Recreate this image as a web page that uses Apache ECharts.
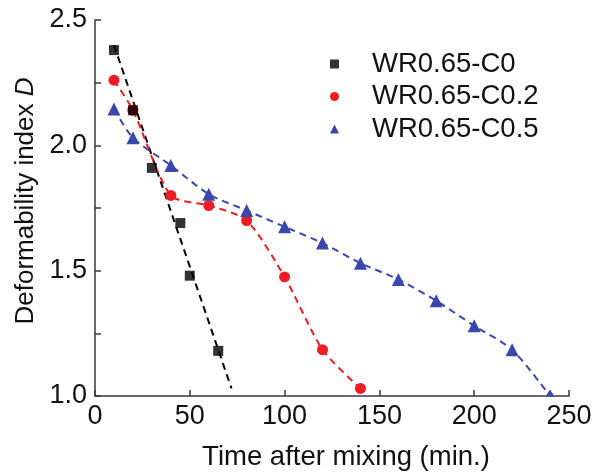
<!DOCTYPE html>
<html>
<head>
<meta charset="utf-8">
<script src="https://cdn.jsdelivr.net/npm/echarts@6/dist/echarts.min.js"></script>
<style>html,body{margin:0;padding:0;background:#fff}#c{width:602px;height:476px}</style>
</head>
<body>
<div id="c"></div>
<script>
// Data
const seriesNames = ['WR0.65-C0', 'WR0.65-C0.2', 'WR0.65-C0.5'];
const c0Time = [10, 20, 30, 45, 50, 65];
const c0D = [2.38, 2.14, 1.91, 1.69, 1.48, 1.18];
const c0FitTime = [10, 72];
const c0FitD = [2.40, 1.03];
const c02Time = [10, 20, 40, 60, 80, 100, 120, 140];
const c02D = [2.26, 2.14, 1.80, 1.76, 1.70, 1.475, 1.185, 1.03];
const c05Time = [10, 20, 40, 60, 80, 100, 120, 140, 160, 180, 200, 220, 240];
const c05D = [2.145, 2.03, 1.92, 1.805, 1.74, 1.675, 1.61, 1.53, 1.465, 1.38, 1.28, 1.185, 1.0];
const xTicks = [0, 50, 100, 150, 200, 250];
const yTicks = [1.0, 1.5, 2.0, 2.5];

const pair = (xs, ys) => xs.map((x, i) => [x, ys[i]]);
const FONT = 'Liberation Sans, Arial, sans-serif';
const AX = '#3a3a3a';
const BLACK = '#000000', RED = '#ee1c24', BLUE = '#3a47ad';
const yMin = yTicks[0];

// a point sitting on the bottom axis is drawn only partly (as in the reference)
const blueData = pair(c05Time, c05D).map(p => p[1] <= yMin
  ? {value: p, symbolSize: [9, 7], symbolOffset: [0, -3]} : p);

const chart = echarts.init(document.getElementById('c'), null, {renderer: 'canvas'});
chart.setOption({
  animation: false,
  backgroundColor: '#ffffff',
  grid: {left: 95, right: 33, top: 20, bottom: 79, containLabel: false},
  legend: {
    orient: 'vertical', left: 325, top: 45, itemGap: 4.5,
    itemWidth: 9, itemHeight: 9,
    textStyle: {fontFamily: FONT, fontSize: 27.5, color: '#111', lineHeight: 28, padding: [0, 0, 0, 28]},
    data: [
      {name: seriesNames[0], icon: 'rect'},
      {name: seriesNames[1], icon: 'circle'},
      {name: seriesNames[2], icon: 'triangle'}
    ]
  },
  xAxis: {
    type: 'value', min: xTicks[0], max: xTicks[xTicks.length - 1], interval: 50,
    name: 'Time after mixing (min.)', nameLocation: 'middle', nameGap: 47,
    nameTextStyle: {fontFamily: FONT, fontSize: 27.5, color: '#111', padding: [0, 0, 0, 28]},
    axisLine: {show: true, onZero: false, lineStyle: {color: AX, width: 1.5}},
    axisTick: {show: true, inside: true, length: 6, lineStyle: {color: AX, width: 1.5}},
    axisLabel: {fontFamily: FONT, fontSize: 27, color: '#111', margin: 7},
    splitLine: {show: false}
  },
  yAxis: {
    type: 'value', min: yMin, max: yTicks[yTicks.length - 1], interval: 0.5,
    name: 'Deformability index {i|D}', nameLocation: 'middle', nameGap: 42, nameRotate: 90,
    nameTextStyle: {fontFamily: FONT, fontSize: 26, color: '#111', padding: [0, 0, 0, 14],
      rich: {i: {fontFamily: FONT, fontSize: 26, fontStyle: 'italic', color: '#111'}}},
    axisLine: {show: true, onZero: false, lineStyle: {color: AX, width: 1.5}},
    axisTick: {show: true, inside: true, length: 6, lineStyle: {color: AX, width: 1.5}},
    minorTick: {show: true, splitNumber: 2, length: 6, lineStyle: {color: AX, width: 1.5}},
    axisLabel: {fontFamily: FONT, fontSize: 27, color: '#111', margin: 8, formatter: v => v.toFixed(1)},
    splitLine: {show: false}
  },
  series: [
    {
      name: seriesNames[0] + ' fit', type: 'line', data: pair(c0FitTime, c0FitD),
      showSymbol: false, symbol: 'none', color: BLACK,
      lineStyle: {color: BLACK, width: 2, type: [7, 5]}, z: 1
    },
    {
      name: seriesNames[1], type: 'line', data: pair(c02Time, c02D), smooth: 0.25,
      symbol: 'circle', symbolSize: 11, color: RED,
      itemStyle: {color: RED}, lineStyle: {color: RED, width: 2, type: [7, 5]}, z: 2
    },
    {
      name: seriesNames[2], type: 'line', data: blueData, smooth: 0.25,
      symbol: 'triangle', symbolSize: 13, color: BLUE,
      itemStyle: {color: BLUE}, lineStyle: {color: BLUE, width: 2, type: [7, 5]}, z: 2
    },
    {
      name: seriesNames[0], type: 'scatter', data: pair(c0Time, c0D),
      symbol: 'rect', symbolSize: 10, color: BLACK, itemStyle: {color: BLACK}, z: 3
    }
  ]
});
</script>
</body>
</html>
